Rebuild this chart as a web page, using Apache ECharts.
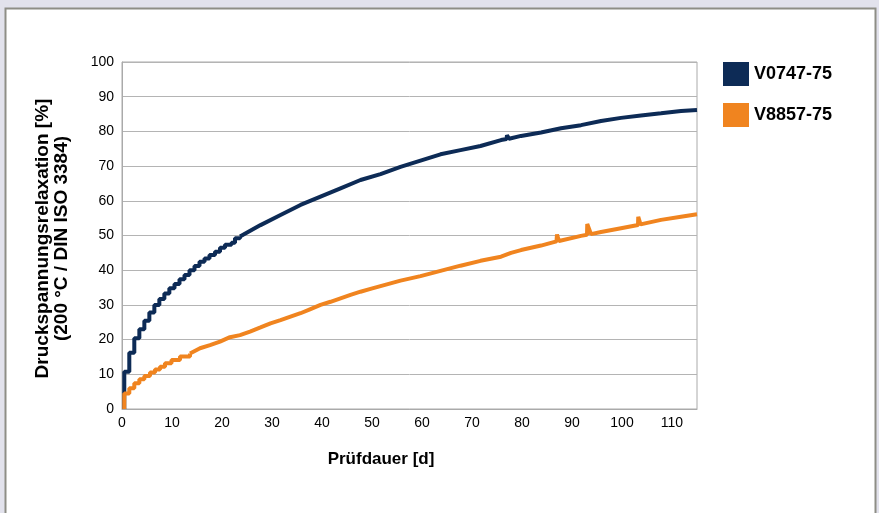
<!DOCTYPE html>
<html>
<head>
<meta charset="utf-8">
<script src="https://cdn.jsdelivr.net/npm/echarts@6/dist/echarts.min.js"></script>
<style>
  html, body { margin: 0; padding: 0; background: #e2e2ec; }
  #chart { width: 879px; height: 513px; }
</style>
</head>
<body>
<div id="chart"></div>
<script>
// Series names
const seriesNames = ['V0747-75', 'V8857-75'];

// V0747-75 — early stepped section (days / %)
const navyStepDays   = [0.45, 0.46, 1.46, 2.46, 3.47, 4.47, 5.47, 6.47, 7.47, 8.47, 9.47, 10.5, 11.5, 12.5, 13.5, 14.5, 15.5, 16.5, 17.5, 18.6, 19.6, 20.6, 21.9, 22.6, 23.6];
const navyStepValues = [0, 10.7, 16.2, 20.4, 23, 25.4, 27.8, 30, 31.7, 33.3, 34.8, 36, 37.4, 38.6, 40, 41.2, 42.4, 43.4, 44.4, 45.3, 46.5, 47.3, 47.9, 49.2, 49.7];
// V0747-75 — later section
const navyDays   = [23.6, 27.7, 31.7, 35.7, 39.7, 43.7, 47.7, 51.7, 55.7, 59.7, 63.7, 67.7, 71.7, 75.8, 76.9, 77.0, 77.4, 79.8, 83.8, 87.8, 91.8, 95.8, 99.8, 103.8, 107.8, 111.8, 115];
const navyValues = [49.7, 53, 55.9, 58.8, 61.2, 63.6, 66, 67.7, 69.8, 71.6, 73.4, 74.6, 75.8, 77.5, 77.8, 78.9, 77.9, 78.7, 79.7, 80.9, 81.8, 83, 83.9, 84.6, 85.2, 85.9, 86.2];

// V8857-75 — early stepped section
const orangeStepDays   = [0.45, 0.46, 1.46, 2.46, 3.47, 4.47, 5.6, 6.6, 7.6, 8.6, 9.9, 11.6, 13.6];
const orangeStepValues = [0, 4.5, 6, 7.4, 8.6, 9.5, 10.5, 11.4, 12.2, 13.2, 14.1, 15.1, 16];
// V8857-75 — later section
const orangeDays   = [13.6, 15.6, 17.6, 19.6, 21.6, 23.6, 25.6, 27.7, 29.7, 31.7, 33.7, 35.7, 37.7, 39.7, 41.7, 43.7, 45.7, 47.7, 49.7, 51.7, 53.7, 55.7, 59.7, 63.7, 67.7, 71.7, 75.8, 77.8, 79.8, 83.8, 86.9, 87.0, 87.4, 91.8, 93.0, 93.05, 93.8, 95.8, 99.8, 103.2, 103.25, 103.7, 107.8, 111.8, 115];
const orangeValues = [16, 17.5, 18.4, 19.4, 20.7, 21.3, 22.3, 23.5, 24.7, 25.6, 26.6, 27.6, 28.8, 30, 30.9, 31.9, 32.9, 33.8, 34.6, 35.4, 36.2, 37, 38.3, 39.8, 41.3, 42.7, 43.9, 45, 45.8, 47.1, 48.3, 50.3, 48.4, 49.9, 50.2, 53.3, 50.4, 51, 52.1, 53.0, 55.4, 53.2, 54.5, 55.4, 56.1];

// Axis settings
const xMin = 0, xMax = 115, xStep = 10;
const yMin = 0, yMax = 100, yStep = 10;
const xAxisTitle = 'Prüfdauer [d]';
const yAxisTitle = 'Druckspannungsrelaxation [%]\n(200 °C / DIN ISO 3384)';

const colors = ['#0d2b56', '#f0841f'];
const pair = (xs, ys) => xs.map((x, i) => [x, ys[i]]);
const font = '"Liberation Sans", Arial, Helvetica, sans-serif';

const chart = echarts.init(document.getElementById('chart'), null, { renderer: 'canvas' });

const lineSeries = (name, data, color, step) => ({
  name: name,
  type: 'line',
  data: data,
  step: step,
  showSymbol: false,
  symbol: 'none',
  color: color,
  itemStyle: { color: color },
  lineStyle: { color: color, width: 4, join: 'bevel' },
  animation: false,
  z: 3
});

chart.setOption({
  backgroundColor: '#e2e2ec',
  animation: false,
  graphic: [{
    type: 'rect',
    silent: true,
    z: -100,
    shape: { x: 5.5, y: 8.5, width: 870, height: 620 },
    style: { fill: '#ffffff', stroke: '#8e8e86', lineWidth: 2 }
  }],
  grid: {
    left: 122, top: 62, right: 182, bottom: 104,
    show: true, borderColor: '#aaaaaa', borderWidth: 1, backgroundColor: 'transparent'
  },
  legend: {
    data: seriesNames,
    orient: 'vertical',
    left: 723, top: 62,
    padding: 0,
    itemWidth: 26, itemHeight: 24, itemGap: 17,
    icon: 'rect',
    selectedMode: false,
    textStyle: { fontFamily: font, fontWeight: 'bold', fontSize: 18, color: '#000', padding: [5, 0, 0, 0] }
  },
  xAxis: {
    type: 'value',
    min: xMin, max: xMax, interval: xStep,
    name: xAxisTitle,
    nameLocation: 'middle',
    nameGap: 42,
    nameTextStyle: { fontFamily: font, fontWeight: 'bold', fontSize: 17, color: '#000', padding: [0, 57, 0, 0] },
    axisLine: { show: true, lineStyle: { color: '#aaaaaa', width: 1 } },
    axisTick: { show: false },
    axisLabel: { fontFamily: font, fontSize: 14, color: '#000', margin: 7, showMaxLabel: false },
    splitLine: { show: false }
  },
  yAxis: {
    type: 'value',
    min: yMin, max: yMax, interval: yStep,
    name: yAxisTitle,
    nameLocation: 'middle',
    nameGap: 51,
    nameTextStyle: { fontFamily: font, fontWeight: 'bold', fontSize: 19, lineHeight: 19, color: '#000', align: 'center', padding: [0, 6, 0, 0] },
    axisLine: { show: true, lineStyle: { color: '#aaaaaa', width: 1 } },
    axisTick: { show: false },
    axisLabel: { fontFamily: font, fontSize: 14, color: '#000', margin: 8 },
    splitLine: { show: true, lineStyle: { color: '#b4b4b4', width: 1 } }
  },
  series: [
    lineSeries(seriesNames[0], pair(navyStepDays, navyStepValues), colors[0], 'end'),
    lineSeries(seriesNames[0], pair(navyDays, navyValues), colors[0], false),
    lineSeries(seriesNames[1], pair(orangeStepDays, orangeStepValues), colors[1], 'end'),
    lineSeries(seriesNames[1], pair(orangeDays, orangeValues), colors[1], false)
  ]
});
</script>
</body>
</html>
